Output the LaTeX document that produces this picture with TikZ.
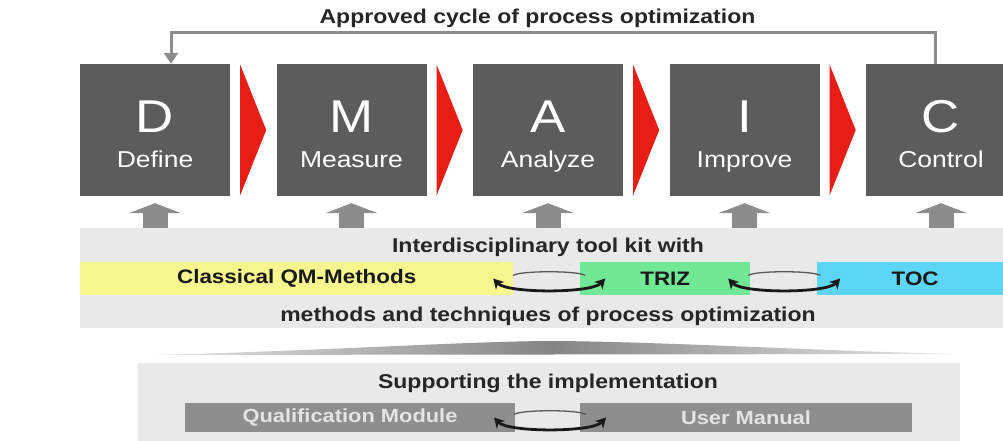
\documentclass[tikz,border=0pt]{standalone}
\usepackage{fontspec}
\setmainfont{Liberation Sans}[FakeStretch=1.15]
\usetikzlibrary{arrows.meta,calc}

\definecolor{phasegray}{RGB}{92,92,92}
\definecolor{stepred}{RGB}{232,30,22}
\definecolor{liftgray}{RGB}{140,140,140}
\definecolor{panelgray}{RGB}{233,233,233}
\definecolor{qmyellow}{RGB}{246,246,142}
\definecolor{trizgreen}{RGB}{112,232,150}
\definecolor{tocblue}{RGB}{92,214,244}
\definecolor{barcolor}{RGB}{142,142,142}
\definecolor{bartext}{RGB}{228,228,228}

\begin{document}
\begin{tikzpicture}[x=1pt, y=-1pt]

    %styles
    \tikzstyle{phase}=[rectangle, fill=phasegray, minimum width=150, minimum height=132, inner sep=0]
    \tikzstyle{letter}=[text=white, font=\fontsize{46}{50}\selectfont, anchor=base, inner sep=0]
    \tikzstyle{word}=[text=white, font=\fontsize{23}{26}\selectfont, anchor=base, inner sep=0]
    \tikzstyle{headline}=[font=\bfseries\fontsize{20}{24}\selectfont, text=black!85, anchor=base, inner sep=0]
    \tikzstyle{panel}=[rectangle, fill=panelgray, anchor=north west, inner sep=0]
    \tikzstyle{strip}=[rectangle, minimum height=33, inner sep=0, anchor=west, font=\bfseries\fontsize{19.5}{22}\selectfont, text=black!90]
    \tikzstyle{supportbar}=[rectangle, fill=barcolor, minimum height=29, inner sep=0, text=bartext, font=\bfseries\fontsize{19}{22}\selectfont]
    \tikzstyle{lift}=[draw=liftgray, line width=25pt, -{Triangle[width=52pt, length=10pt]}]
    \tikzstyle{loopline}=[draw=liftgray, line width=3pt, -{Triangle[width=14pt, length=11pt]}]
    \tikzstyle{swapline}=[draw=black!90, line width=2.8pt, {Stealth[length=10pt, width=11pt, inset=3pt]}-{Stealth[length=10pt, width=11pt, inset=3pt]}]
    \tikzstyle{swaptop}=[draw=black!65, line width=1.3pt]

    \useasboundingbox (0,0) rectangle (1003,441);
    \clip (0,0) rectangle (1003,441);

    % phases
    \foreach \l/\w [count=\i from 0] in {D/Define, M/Measure, A/Analyze, I/Improve, C/Control} {
        \node[phase] (\l) at ({155+196.5*\i},130) {};
        \node[letter] (\l-l) at ([yshift=-2]\l.center) {\l};
        \node[word] (\l-w) at ([yshift=-37]\l.center) {\w};
    }
    \foreach \a in {D, M, A, I}
        \fill[stepred] ([xshift=10,yshift=-1]\a.north east) -- ([xshift=36]\a.east) -- ([xshift=10,yshift=1]\a.south east) -- cycle;

    % cycle back
    \node[headline] (title) at (537.5,23.5) {Approved cycle of process optimization};
    \draw[loopline] ([xshift=-6]C.north) -- ++(0,-31) -| ([xshift=16]D.north);

    % tool kit
    \node[panel, minimum width=930, minimum height=100] (kit) at (80,228) {};
    \node[headline] (kit-top) at (548,252) {Interdisciplinary tool kit with};
    \node[headline] (kit-bottom) at (548,321) {methods and techniques of process optimization};
    \node[strip, fill=qmyellow, minimum width=433] (qm) at (80,278.5) {Classical QM-Methods};
    \node[strip, fill=trizgreen, minimum width=170] (triz) at (580,278.5) {TRIZ};
    \node[strip, fill=tocblue, minimum width=196] (toc) at (817,278.5) {TOC};
    \foreach \l in {D, M, A, I, C}
        \draw[lift] (\l.south |- kit.north) -- ([yshift=-7]\l.south);

    % wedge
    \shade[left color=panelgray, right color=panelgray, middle color=black!48] (146,355) .. controls (300,352) and (450,342) .. (545,341) .. controls (650,341) and (820,351) .. (956,354) -- cycle;

    % support
    \node[panel, minimum width=822, minimum height=85] (support) at (138,363) {};
    \node[headline] (support-title) at (548,388) {Supporting the implementation};
    \node[supportbar, minimum width=330] (qual) at (350,417.5) {Qualification Module};
    \node[supportbar, minimum width=332] (manual) at (746,417.5) {User Manual};

    % swaps
    \coordinate (swap1) at ($(qm.east)!0.5!(triz.west)+(2.5,0)$);
    \coordinate (swap2) at ($(triz.east)!0.5!(toc.west)+(0.5,0)$);
    \coordinate (swap3) at ($(qual.east)!0.5!(manual.west)+(2.5,0)$);
    \foreach \s in {swap1, swap2, swap3} {
        \draw[swaptop] ([xshift=-36,yshift=3]\s) .. controls ([xshift=-30,yshift=8]\s) and ([xshift=30,yshift=8]\s) .. ([xshift=36,yshift=3]\s);
        \draw[swapline] ([xshift=-56]\s) .. controls ([xshift=-42,yshift=-15]\s) and ([xshift=42,yshift=-15]\s) .. ([xshift=56]\s);
    }
\end{tikzpicture}
\end{document}
